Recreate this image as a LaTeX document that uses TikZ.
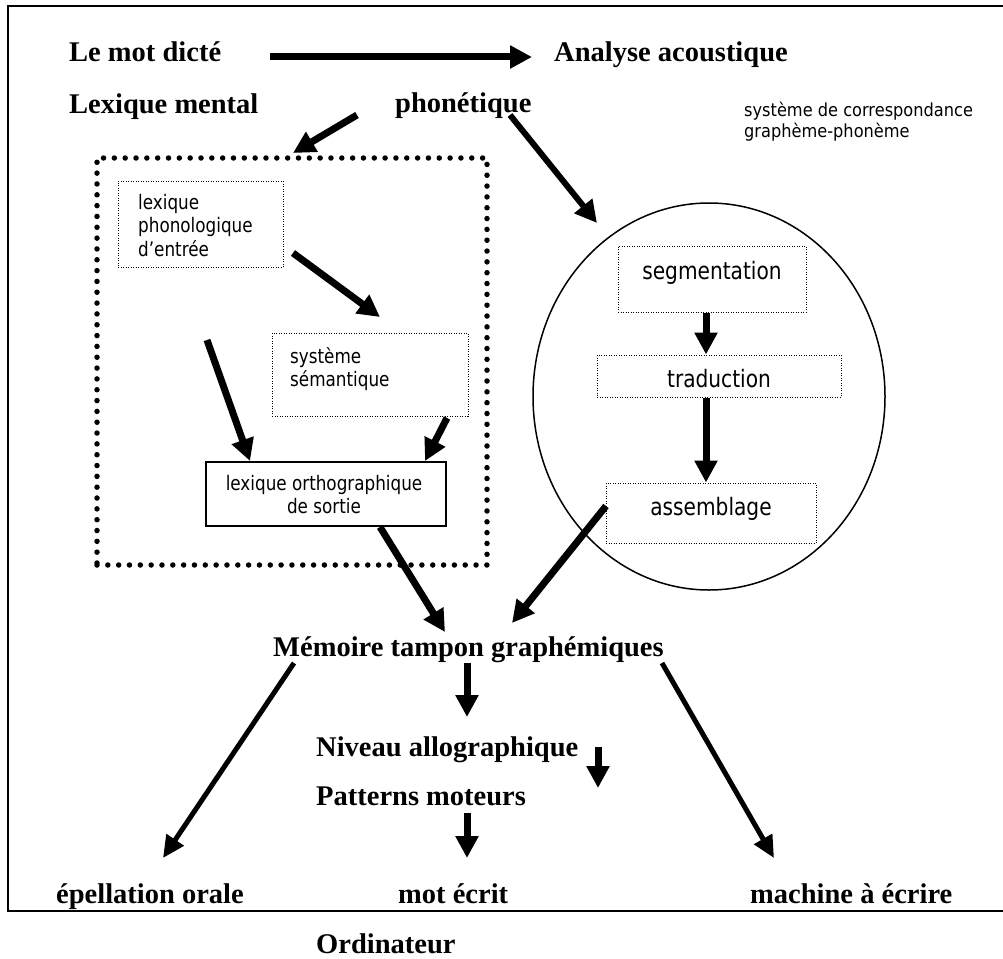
\documentclass[tikz,border=0pt]{standalone}
\usepackage{fontspec}
\setmainfont{Liberation Serif}
\newfontfamily\boxsans[FakeStretch=0.84]{DejaVu Sans}
\newfontfamily\notesans[FakeStretch=0.9]{DejaVu Sans}
\usetikzlibrary{arrows.meta,shapes.geometric}

\begin{document}
\begin{tikzpicture}[x=1pt,y=-1pt,
  heading/.style={font=\fontsize{28.5}{34}\selectfont\bfseries, inner sep=0pt, anchor=base west},
  boxtxt/.style={font=\boxsans\fontsize{20}{23.5}\selectfont, inner sep=0pt},
  circtxt/.style={font=\boxsans\fontsize{24}{28}\selectfont, inner sep=0pt, anchor=base},
  notetxt/.style={font=\notesans\fontsize{18}{21.5}\selectfont, inner sep=0pt, anchor=base west},
  dotbox/.style={draw, line width=1pt, dash pattern=on 1pt off 1.5pt, inner sep=0pt},
  solidbox/.style={draw, line width=1.5pt, inner sep=0pt},
  bigdots/.style={draw, line width=5.5pt, dash pattern=on 0pt off 10.83pt, line cap=round, inner sep=0pt},
  flow/.style={line width=7pt, -{Triangle[length=22pt,width=22pt]}},
  slim/.style={line width=5pt, -{Triangle[length=22pt,width=20pt]}},
]
% page and outer frame
\fill[white] (0,0) rectangle (1003,958);
\useasboundingbox (0,0) rectangle (1003,958);
\draw[line width=1.6pt] (1003,6) -- (8,6) -- (8,911) -- (1003,911);
\draw[line width=2.8pt] (153,6) -- (1003,6);
\draw[line width=2.8pt] (490,911) -- (1003,911);

% headings
\node[heading] (dicte) at (69,62) {Le mot dicté};
\node[heading] (acous) at (554,62) {Analyse acoustique};
\node[heading] (lexm) at (69,113) {Lexique mental};
\node[heading] (phon) at (395,112) {phonétique};
\node[notetxt] (cgp) at (744,116) {\begin{tabular}[t]{@{}l@{}}système de correspondance\\graphème-phonème\end{tabular}};

% mental lexicon (dotted frame)
\node[bigdots, minimum width=390pt, minimum height=407pt] (lexbox) at (292,361.5) {};
\node[dotbox, minimum width=165pt, minimum height=86pt] (lexphon) at (200.5,224) {};
\node[boxtxt, anchor=base west] (lexphon-t) at (138,209)
  {\begin{tabular}[t]{@{}l@{}}lexique\\phonologique\\d’entrée\end{tabular}};
\node[dotbox, minimum width=196pt, minimum height=83pt] (sem) at (370,374.5) {};
\node[boxtxt, anchor=base west] (sem-t) at (290,363)
  {\begin{tabular}[t]{@{}l@{}}système\\sémantique\end{tabular}};
\node[solidbox, minimum width=240pt, minimum height=64pt] (lexorth) at (326,494) {};
\node[boxtxt, anchor=base] (lexorth-t) at (324,490)
  {\begin{tabular}[t]{@{}c@{}}lexique orthographique\\de sortie\end{tabular}};

% grapheme-phoneme conversion (ellipse)
\node[draw, ellipse, line width=1.5pt, minimum width=352pt, minimum height=387pt, inner sep=0pt] (gpc) at (709,396.5) {};
\node[dotbox, minimum width=188pt, minimum height=66pt] (seg) at (712,279) {};
\node[circtxt] (seg-t) at (712,279) {segmentation};
\node[dotbox, minimum width=244pt, minimum height=42pt] (trad) at (719,376) {};
\node[circtxt] (trad-t) at (719,387) {traduction};
\node[dotbox, minimum width=210pt, minimum height=60pt] (assem) at (711,513) {};
\node[circtxt] (assem-t) at (711,515) {assemblage};

% output levels
\node[heading] (buf) at (273,656) {Mémoire tampon graphémiques};
\node[heading] (allo) at (316,756) {Niveau allographique};
\node[heading] (motor) at (316,805) {Patterns moteurs};
\node[heading] (oral) at (56,903) {épellation orale};
\node[heading] (ecrit) at (398,903) {mot écrit};
\node[heading] (machine) at (750,903) {machine à écrire};
\node[heading] (ordi) at (316,953) {Ordinateur};

% arrow end points
\coordinate (p1) at (270,57);   \coordinate (p2) at (532,57);
\coordinate (p3) at (357,115);  \coordinate (p4) at (293,153);
\coordinate (p5) at (510,115);  \coordinate (p6) at (597,223);
\coordinate (p7) at (293,253);  \coordinate (p8) at (380,317);
\coordinate (p9) at (207,340);  \coordinate (p10) at (250,461);
\coordinate (p11) at (447,418); \coordinate (p12) at (425,461);
\coordinate (p13) at (380,527); \coordinate (p14) at (445,632);
\coordinate (p15) at (606,506); \coordinate (p16) at (512,623);
\coordinate (p17) at (294,663); \coordinate (p18) at (163,858);
\coordinate (p19) at (467,663); \coordinate (p20) at (467,717);
\coordinate (p21) at (598,747); \coordinate (p22) at (598,788);
\coordinate (p23) at (467,813); \coordinate (p24) at (467,858);
\coordinate (p25) at (662,663); \coordinate (p26) at (774,858);

% connectors
\draw[flow] (p1) -- (p2);
\draw[flow] (p3) -- (p4);
\draw[flow, line width=6pt] (p5) -- (p6);
\draw[flow] (p7) -- (p8);
\draw[flow] (p9) -- (p10);
\draw[flow] (p11) -- (p12);
\draw[flow] (p13) -- (p14);
\draw[flow] (p15) -- (p16);
\draw[flow] ([xshift=-6pt]seg.south) -- ([xshift=-13pt]trad.north);
\draw[flow] ([xshift=-13pt]trad.south) -- ([xshift=-5pt]assem.north);
\draw[slim] (p17) -- (p18);
\draw[flow] (p19) -- (p20);
\draw[flow] (p21) -- (p22);
\draw[flow] (p23) -- (p24);
\draw[slim] (p25) -- (p26);
\end{tikzpicture}
\end{document}
